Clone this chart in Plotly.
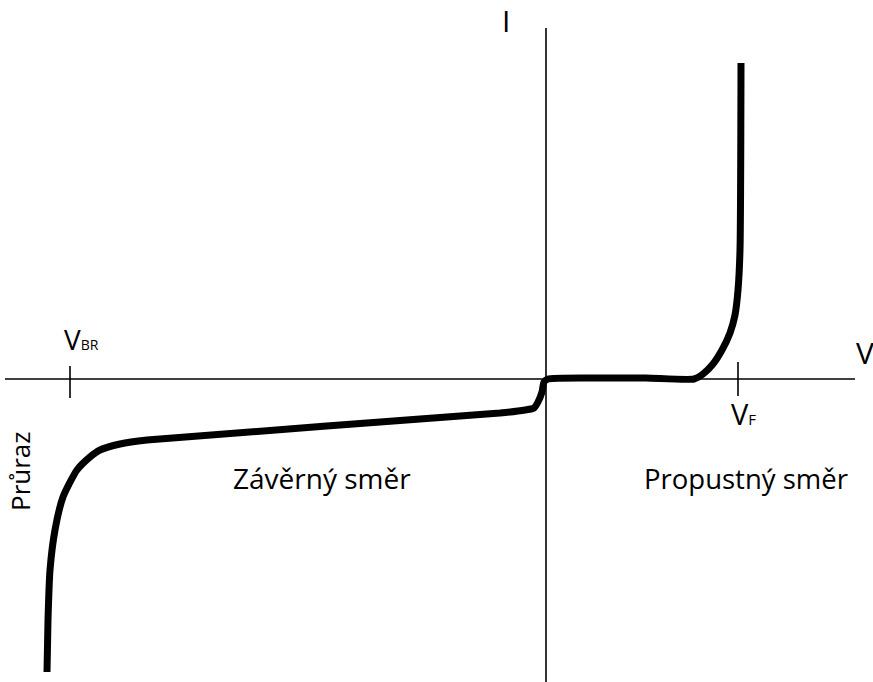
import plotly.graph_objects as go

# diode I-V curve, units (origin at axis crossing)
napeti = [-4.99, -4.98, -4.96, -4.91, -4.83, -4.69, -4.56, -4.46, -4.26, -3.99,
          -0.46, -0.21, -0.12, -0.08, -0.04, -0.02, 0.02, 0.54, 1.00,
          1.48, 1.57, 1.67, 1.76, 1.84, 1.89, 1.92, 1.94, 1.95]
proud = [-2.93, -2.41, -1.91, -1.51, -1.18, -0.91, -0.78, -0.71, -0.65, -0.61,
         -0.34, -0.31, -0.29, -0.23, -0.13, -0.03, 0.00, 0.01, 0.01,
         0.00, 0.05, 0.15, 0.29, 0.46, 0.64, 0.89, 1.29, 3.16]

osa_v = [-5.41, 3.09]
osa_i = [-3.03, 3.51]
v_br = -4.76
v_f = 1.92

fig = go.Figure()

# osy
fig.add_trace(go.Scatter(x=osa_v, y=[0, 0], mode="lines",
                         line=dict(color="black", width=1.6), hoverinfo="skip"))
fig.add_trace(go.Scatter(x=[0, 0], y=osa_i, mode="lines",
                         line=dict(color="black", width=1.6), hoverinfo="skip"))
# znacky V_BR a V_F
fig.add_trace(go.Scatter(x=[v_br, v_br], y=[0.13, -0.19], mode="lines",
                         line=dict(color="black", width=1.6), hoverinfo="skip"))
fig.add_trace(go.Scatter(x=[v_f, v_f], y=[0.17, -0.17], mode="lines",
                         line=dict(color="black", width=1.6), hoverinfo="skip"))

# charakteristika
fig.add_trace(go.Scatter(x=napeti, y=proud, mode="lines",
                         line=dict(color="black", width=7, shape="spline", smoothing=0.6),
                         hoverinfo="skip"))

font = "Open Sans"
popisky = [
    dict(x=-0.40, y=3.59, text="I", size=30),
    dict(x=-4.65, y=0.40, text='V<span style="font-size:14px">BR</span>', size=28),
    dict(x=1.975, y=-0.34, text='V<span style="font-size:15px">F</span>', size=29),
    dict(x=-2.24, y=-0.99, text="Závěrný směr", size=28),
    dict(x=2.00, y=-0.99, text="Propustný směr", size=27.5),
]
for p in popisky:
    fig.add_annotation(x=p["x"], y=p["y"], text=p["text"], showarrow=False,
                       font=dict(family=font, size=p["size"], color="black"))
# popisek osy V je na samem okraji, proto v souradnicich papiru
fig.add_annotation(x=1.0, y=0.27, xref="paper", xshift=3, text="V", showarrow=False,
                   xanchor="right", font=dict(family=font, size=30, color="black"))
fig.add_annotation(x=-5.26, y=-0.93, text="Průraz", showarrow=False, textangle=-90,
                   font=dict(family=font, size=26, color="black"))

fig.update_layout(
    width=873, height=682,
    margin=dict(l=0, r=0, t=0, b=0),
    plot_bgcolor="white", paper_bgcolor="white",
    showlegend=False,
    xaxis=dict(range=[-5.46, 3.27], visible=False),
    yaxis=dict(range=[-3.03, 3.79], visible=False),
)

fig.write_html("out.html", config={"displayModeBar": False},
               post_script="document.body.style.margin='0';")
